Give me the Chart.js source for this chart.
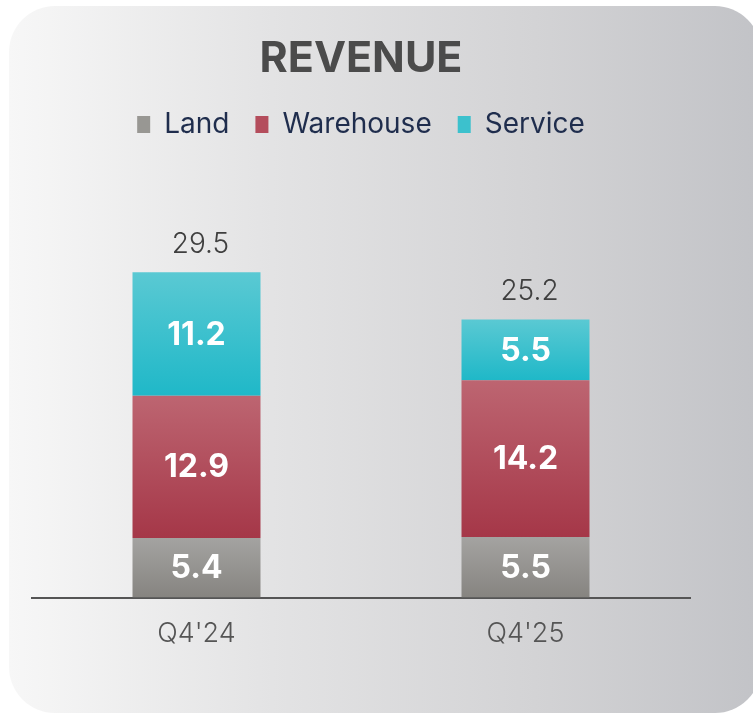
<!DOCTYPE html>
<html>
<head>
<meta charset="utf-8">
<script src="https://cdn.jsdelivr.net/npm/chart.js@4.4.1/dist/chart.umd.min.js"></script>
<style>
  html, body { margin: 0; padding: 0; background: #fff; }
  #wrap { position: relative; width: 753px; height: 714px; overflow: hidden; }
  #card {
    position: absolute; left: 9px; top: 6px; width: 752px; height: 707px;
    border-radius: 46px;
    background: linear-gradient(to right, #f7f7f7 0%, #e3e3e4 35%, #d3d3d5 70%, #c2c3c7 100%);
  }
  canvas { position: absolute; left: 0; top: 0; }
</style>
</head>
<body>
<div id="wrap">
  <div id="card"></div>
  <canvas id="revenueChart" width="753" height="714"></canvas>
</div>
<script>
const categories = ["Q4'24", "Q4'25"];
const seriesNames = ["Land", "Warehouse", "Service"];
const land = [5.4, 5.5];
const warehouse = [12.9, 14.2];
const service = [11.2, 5.5];
const seriesValues = [land, warehouse, service];

// top / bottom colour of each bar gradient
const gradColors = [
    ["#a4a3a1", "#868480"],
    ["#bd6571", "#a53748"],
    ["#5ac9d3", "#1fb8c8"],
];
const legendColors = ["#989793", "#b44d5c", "#3cc1cd"];

const FONT = "Inter, 'Noto Sans', sans-serif";

function barGradient(idx) {
    return function (context) {
        const chart = context.chart;
        const cols = gradColors[idx];
        if (!chart.chartArea || context.type !== "data") return cols[1];
        const y = chart.scales.y;
        const i = context.dataIndex;
        let start = 0;
        for (let d = 0; d < idx; d++) start += seriesValues[d][i];
        const end = start + seriesValues[idx][i];
        const g = chart.ctx.createLinearGradient(0, y.getPixelForValue(end), 0, y.getPixelForValue(start));
        g.addColorStop(0, cols[0]);
        g.addColorStop(1, cols[1]);
        return g;
    };
}

// white values in the middle of every segment + grey totals on top
const labelsPlugin = {
    id: "barLabels",
    afterDatasetsDraw(chart) {
        const ctx = chart.ctx;
        ctx.save();
        ctx.textAlign = "center";
        ctx.textBaseline = "middle";
        ctx.font = "bold 32px " + FONT;
        ctx.fillStyle = "#ffffff";
        chart.data.datasets.forEach((ds, d) => {
            chart.getDatasetMeta(d).data.forEach((el, i) => {
                ctx.fillText(ds.data[i].toFixed(1), el.x, (el.y + el.base) / 2 + 1);
            });
        });
        const last = chart.getDatasetMeta(chart.data.datasets.length - 1).data;
        ctx.font = "300 28px " + FONT;
        ctx.fillStyle = "#3f3f3f";
        last.forEach((el, i) => {
            let total = 0;
            seriesValues.forEach((s) => (total += s[i]));
            ctx.fillText(total.toFixed(1), el.x + 4, el.y - 28);
        });
        ctx.restore();
    },
};

new Chart(document.getElementById("revenueChart"), {
    type: "bar",
    data: {
        labels: categories,
        datasets: seriesNames.map((name, k) => ({
            label: name,
            data: seriesValues[k],
            backgroundColor: barGradient(k),
            borderWidth: 0,
            barPercentage: 1,
            categoryPercentage: 0.389,
        })),
    },
    options: {
        responsive: false,
        animation: false,
        layout: {
            padding: { top: 11, left: 32, right: 63, bottom: 44 },
        },
        scales: {
            x: {
                stacked: true,
                grid: { display: false, drawTicks: false },
                border: { display: true, color: "#555555", width: 2 },
                ticks: {
                    padding: 20,
                    color: "#555555",
                    font: { family: FONT, size: 27, weight: "300" },
                },
            },
            y: {
                stacked: true,
                display: false,
                min: 0,
                max: 40.7,
            },
        },
        plugins: {
            title: {
                display: true,
                text: "REVENUE",
                color: "#4b4b4b",
                font: { family: FONT, size: 43, weight: "bold" },
                padding: { top: 22, bottom: 0 },
            },
            legend: {
                display: true,
                labels: {
                    color: "#1f2d4d",
                    boxWidth: 13,
                    boxHeight: 17,
                    padding: 26,
                    font: { family: FONT, size: 28 },
                    generateLabels: (chart) =>
                        chart.data.datasets.map((ds, k) => ({
                            text: ds.label,
                            fillStyle: legendColors[k],
                            strokeStyle: legendColors[k],
                            lineWidth: 0,
                            fontColor: "#1f2d4d",
                            datasetIndex: k,
                        })),
                },
            },
            tooltip: { enabled: false },
        },
    },
    plugins: [labelsPlugin],
});
</script>
</body>
</html>
